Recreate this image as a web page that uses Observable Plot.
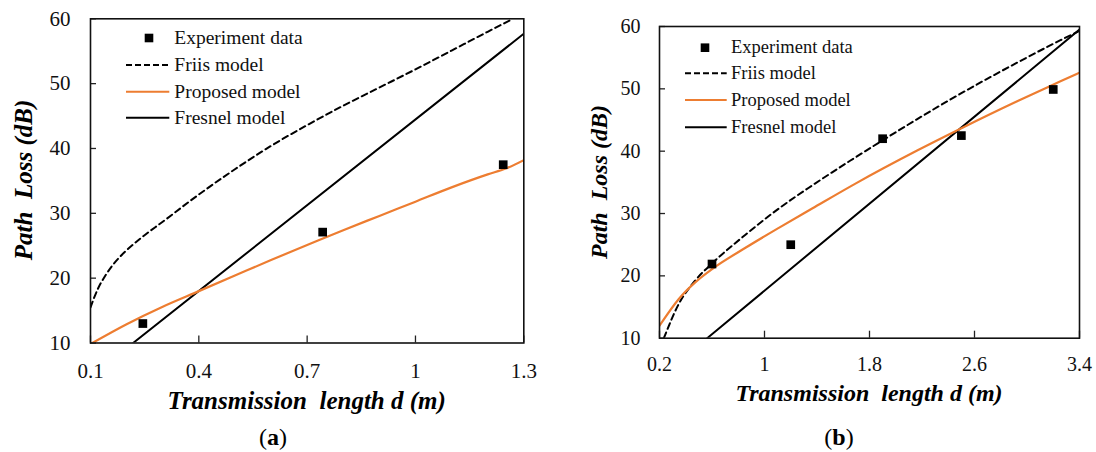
<!DOCTYPE html>
<html>
<head>
<meta charset="utf-8">
<script src="https://cdn.jsdelivr.net/npm/d3@7"></script>
<script src="https://cdn.jsdelivr.net/npm/@observablehq/plot@0.6"></script>
<style>
  html, body { margin: 0; padding: 0; background: #fff; }
  #wrap { position: relative; width: 1096px; height: 452px; overflow: hidden; font-family: "Liberation Serif", "Times New Roman", Times, "DejaVu Serif", serif; color: #000; }
  #wrap svg { position: absolute; top: 0; }
  .ttl { position: absolute; white-space: pre; font-weight: bold; font-style: italic; transform: translate(-50%, -50%); line-height: 1; }
  .cap { position: absolute; white-space: pre; transform: translate(-50%, -50%); line-height: 1; font-size: 24px; }
</style>
</head>
<body>
<div id="wrap"></div>
<script>
// ---------------- Data ----------------
const seriesNames = ["Experiment data", "Friis model", "Proposed model", "Fresnel model"];
const xTitle = "Transmission  length d (m)";
const yTitle = "Path  Loss (dB)";

// Panel (a)
const aXTicks = [0.1, 0.4, 0.7, 1, 1.3];
const aYTicks = [10, 20, 30, 40, 50, 60];
const aExpX = [0.245, 0.743, 1.243];
const aExpY = [13.0, 27.1, 37.5];
const aFriisX = [0.1, 0.12, 0.14, 0.16, 0.18, 0.2, 0.24, 0.3, 0.4, 0.5, 0.6, 0.7, 0.8, 0.9, 1.0, 1.1, 1.2, 1.27];
const aFriisY = [15.5, 18.3, 20.3, 21.9, 23.2, 24.3, 26.2, 28.7, 32.9, 36.8, 40.4, 43.6, 46.6, 49.4, 52.2, 55.1, 58.0, 60.0];
const aPropX = [0.105, 0.2, 0.3, 0.4, 0.5, 0.6, 0.7, 0.8, 0.9, 1.0, 1.1, 1.2, 1.25, 1.3];
const aPropY = [10.0, 12.9, 15.6, 18.0, 20.4, 22.8, 25.1, 27.4, 29.6, 31.8, 34.0, 36.0, 36.9, 38.2];
const aFresX = [0.218, 1.3];
const aFresY = [10.0, 57.7];

// Panel (b)
const bXTicks = [0.2, 1, 1.8, 2.6, 3.4];
const bYTicks = [10, 20, 30, 40, 50, 60];
const bExpX = [0.6, 1.2, 1.9, 2.5, 3.2];
const bExpY = [21.9, 25.0, 42.0, 42.5, 49.9];
const bFriisX = [0.233, 0.347, 0.474, 0.601, 0.855, 1.109, 1.363, 1.655, 1.897, 2.417, 2.925, 3.255, 3.4];
const bFriisY = [10.0, 15.5, 19.3, 22.0, 26.6, 30.8, 34.5, 38.5, 41.7, 48.3, 54.2, 57.8, 59.3];
const bPropX = [0.2, 0.347, 0.474, 0.601, 0.855, 1.109, 1.363, 1.693, 2.163, 2.493, 2.925, 3.255, 3.4];
const bPropY = [12.0, 16.3, 19.0, 21.1, 24.5, 27.7, 30.8, 34.8, 40.1, 43.6, 48.0, 51.2, 52.6];
const bFresX = [0.563, 3.4];
const bFresY = [10.0, 59.5];

// ---------------- Helpers ----------------
const ORANGE = "#ED7D31";
const FONT = "'Liberation Serif', 'Times New Roman', Times, 'DejaVu Serif', serif";
const zip = (xs, ys) => xs.map((x, i) => ({x, y: ys[i]}));

function panel(cfg) {
  const plotW = cfg.width - cfg.ml - cfg.mr;
  const plotH = 452 - cfg.mt - cfg.mb;
  return Plot.plot({
    width: cfg.width,
    height: 452,
    marginLeft: cfg.ml, marginRight: cfg.mr, marginTop: cfg.mt, marginBottom: cfg.mb,
    x: {domain: cfg.xDomain},
    y: {domain: [10, 60]},
    style: {fontFamily: FONT, fontSize: cfg.tickFont + "px", color: "#000", background: "transparent", overflow: "visible"},
    marks: [
      Plot.axisX(cfg.xTicks, {tickSize: 0, tickPadding: cfg.xPad, label: null, tickFormat: d => String(d), fill: "#111", fontFamily: FONT}),
      Plot.axisY(cfg.yTicks, {tickSize: 0, tickPadding: cfg.yPad, label: null, tickFormat: d => String(d), fill: "#111", fontFamily: FONT}),
      Plot.tickX(cfg.xTicks, {x: d => d, insetTop: plotH - 7, stroke: "#222", strokeWidth: 1.3}),
      Plot.tickY(cfg.yTicks, {y: d => d, insetRight: plotW - 6, stroke: "#222", strokeWidth: 1.3}),
      Plot.line(zip(cfg.fresX, cfg.fresY), {x: "x", y: "y", stroke: "#000", strokeWidth: 2, clip: true}),
      Plot.line(zip(cfg.friisX, cfg.friisY), {x: "x", y: "y", stroke: "#000", strokeWidth: 2, strokeDasharray: "6,4", curve: "monotone-x", clip: true}),
      Plot.line(zip(cfg.propX, cfg.propY), {x: "x", y: "y", stroke: ORANGE, strokeWidth: 2.2, curve: "monotone-x", clip: true}),
      Plot.dot(zip(cfg.expX, cfg.expY), {x: "x", y: "y", symbol: "square", r: 4.9, fill: "#000", stroke: "none"}),
      Plot.frame({stroke: "#111", strokeWidth: 1.6})
    ]
  });
}

const wrap = document.getElementById("wrap");

const svgA = panel({
  width: 548, ml: 90, mr: 24.7, mt: 18.3, mb: 109.5,
  xDomain: [0.1, 1.3], xTicks: aXTicks, yTicks: aYTicks, tickFont: 21, xPad: 20, yPad: 20,
  expX: aExpX, expY: aExpY, friisX: aFriisX, friisY: aFriisY, propX: aPropX, propY: aPropY, fresX: aFresX, fresY: aFresY
});
svgA.style.left = "0px";
wrap.appendChild(svgA);

const svgB = panel({
  width: 548, ml: 111, mr: 17, mt: 26, mb: 114.3,
  xDomain: [0.2, 3.4], xTicks: bXTicks, yTicks: bYTicks, tickFont: 20, xPad: 18.5, yPad: 19,
  expX: bExpX, expY: bExpY, friisX: bFriisX, friisY: bFriisY, propX: bPropX, propY: bPropY, fresX: bFresX, fresY: bFresY
});
svgB.style.left = "548px";
wrap.appendChild(svgB);

// ---------------- Titles & captions ----------------
function addDiv(cls, text, x, y, size, rotate) {
  const d = document.createElement("div");
  d.className = cls;
  d.textContent = text;
  d.style.left = x + "px";
  d.style.top = y + "px";
  d.style.fontFamily = FONT;
  if (size) d.style.fontSize = size + "px";
  if (rotate) d.style.transform = "translate(-50%, -50%) rotate(-90deg)";
  wrap.appendChild(d);
  return d;
}
addDiv("ttl", xTitle, 306.7, 400, 25);
addDiv("ttl", yTitle, 23, 180.4, 25, true);
addDiv("ttl", xTitle, 869, 393, 24);
addDiv("ttl", yTitle, 599, 182, 24, true);

const capA = addDiv("cap", "", 273, 437);
capA.innerHTML = "(<b>a</b>)";
const capB = addDiv("cap", "", 839, 437);
capB.innerHTML = "(<b>b</b>)";

// ---------------- Legends ----------------
const NS = "http://www.w3.org/2000/svg";
const leg = document.createElementNS(NS, "svg");
leg.setAttribute("width", 1096);
leg.setAttribute("height", 452);
leg.style.left = "0px";
leg.style.pointerEvents = "none";
wrap.appendChild(leg);

function legend(cfg) {
  cfg.ys.forEach((y, i) => {
    if (i === 0) {
      const r = document.createElementNS(NS, "rect");
      r.setAttribute("x", cfg.mx - 4.3); r.setAttribute("y", y - 4.3);
      r.setAttribute("width", 8.6); r.setAttribute("height", 8.6);
      r.setAttribute("fill", "#000");
      leg.appendChild(r);
    } else {
      const l = document.createElementNS(NS, "line");
      l.setAttribute("x1", cfg.lx1); l.setAttribute("x2", cfg.lx2);
      l.setAttribute("y1", y); l.setAttribute("y2", y);
      l.setAttribute("stroke", i === 2 ? ORANGE : "#000");
      l.setAttribute("stroke-width", 2);
      if (i === 1) l.setAttribute("stroke-dasharray", "6,3");
      leg.appendChild(l);
    }
    const t = document.createElementNS(NS, "text");
    t.setAttribute("x", cfg.tx);
    t.setAttribute("y", y + cfg.fs * 0.3);
    t.setAttribute("font-family", FONT);
    t.style.fontFamily = FONT;
    t.setAttribute("font-size", cfg.fs);
    t.setAttribute("fill", "#111");
    t.textContent = seriesNames[i];
    leg.appendChild(t);
  });
}
legend({mx: 149, tx: 174.3, lx1: 126, lx2: 169.3, ys: [38, 65, 91.7, 117.7], fs: 19.5});
legend({mx: 705, tx: 731, lx1: 685, lx2: 726.7, ys: [47.7, 73.3, 100, 127.3], fs: 18.5});
</script>
</body>
</html>
